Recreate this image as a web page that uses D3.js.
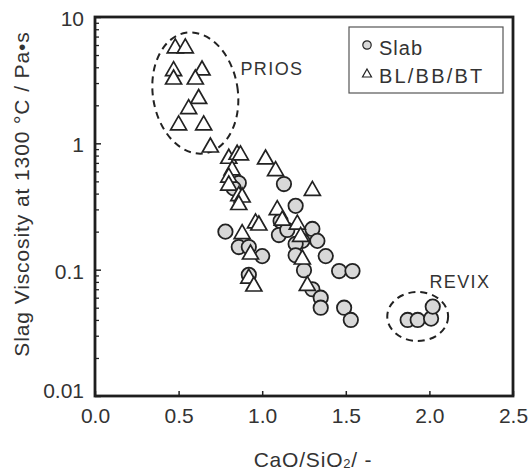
<!DOCTYPE html>
<html>
<head>
<meta charset="utf-8">
<script src="https://cdn.jsdelivr.net/npm/d3@7"></script>
<style>
  html, body { margin: 0; padding: 0; background: #fff; }
  svg text { font-family: "Liberation Sans", Arial, sans-serif; fill: #333; }
</style>
</head>
<body>
<svg id="chart" width="530" height="475"></svg>
<script>
// Slab samples: basicity (CaO/SiO2) and viscosity at 1300 °C (Pa·s)
const slabBasicity = [0.78, 0.86, 0.83, 1.13, 1.20, 1.11, 1.30, 1.10, 1.15, 1.33,
                      1.24, 1.20, 0.86, 0.92, 1.00, 1.20, 1.38, 1.25, 1.46, 1.54,
                      0.92, 1.30, 1.35, 1.35, 1.49, 1.53, 1.87, 1.93, 2.01, 2.02];
const slabViscosity = [0.20, 0.485, 0.44, 0.476, 0.32, 0.243, 0.21, 0.188, 0.206, 0.169,
                       0.169, 0.160, 0.151, 0.151, 0.128, 0.130, 0.128, 0.099, 0.0975, 0.0975,
                       0.091, 0.070, 0.060, 0.050, 0.050, 0.040, 0.040, 0.040, 0.041, 0.051];

// BL/BB/BT samples
const blBasicity = [0.48, 0.54, 0.47, 0.47, 0.64, 0.60, 0.62, 0.56, 0.50, 0.65,
                    0.69, 0.80, 0.85, 0.87, 0.82, 0.80, 0.80, 0.86, 0.88, 0.86,
                    1.02, 1.08, 1.30, 1.09, 1.12, 1.21, 1.23, 0.96, 0.98, 0.88,
                    0.93, 1.24, 0.92, 0.95, 1.27];
const blViscosity = [5.9, 5.9, 3.9, 3.35, 3.95, 3.35, 2.35, 1.95, 1.45, 1.45,
                     0.97, 0.79, 0.85, 0.84, 0.64, 0.56, 0.485, 0.40, 0.39, 0.34,
                     0.78, 0.63, 0.44, 0.31, 0.256, 0.238, 0.19, 0.243, 0.234, 0.20,
                     0.138, 0.126, 0.089, 0.077, 0.078];

// Axis ticks
const xTickValues = [0, 0.5, 1.0, 1.5, 2.0, 2.5];
const xTickLabels = ["0.0", "0.5", "1.0", "1.5", "2.0", "2.5"];
const yTickValues = [10, 1, 0.1, 0.01];
const yTickLabels = ["10", "1", "0.1", "0.01"];
const legendLabels = ["Slab", "BL/BB/BT"];

// Grouped process regions (dashed ellipses): centre, half-width (x units), half-height (decades)
const regionNames = ["PRIOS", "REVIX"];
const regionCenterX = [0.60, 1.93];
const regionCenterY = [2.5, 0.0426];
const regionHalfX = [0.254, 0.182];
const regionHalfDecades = [0.483, 0.194];
const regionTilt = [-9, 0];
const regionLabelX = [0.87, 2.0];
const regionLabelY = [3.47, 0.0716];

const W = 530, H = 475;
const margin = { left: 95, right: 17, top: 17, bottom: 79 };
const svg = d3.select("#chart");

const x = d3.scaleLinear().domain([0, 2.5]).range([margin.left, W - margin.right]);
const y = d3.scaleLog().domain([0.01, 10]).range([H - margin.bottom, margin.top]);

const x0 = x.range()[0], x1 = x.range()[1];
const y0 = y.range()[0], y1 = y.range()[1];

// x axis: inward ticks, labels below
const xAxis = svg.append("g")
  .attr("transform", `translate(0,${y0})`)
  .call(d3.axisBottom(x).tickValues(xTickValues)
    .tickFormat((d, i) => xTickLabels[i])
    .tickSizeInner(-5).tickSizeOuter(0).tickPadding(12));
xAxis.select(".domain").remove();
xAxis.selectAll("line").attr("stroke", "#222").attr("stroke-width", 1.5);
xAxis.selectAll("text").attr("font-size", 21).style("fill", "#333");

// y axis: minor ticks
const minorVals = [];
[0.01, 0.1, 1].forEach(b => { for (let k = 2; k <= 9; k++) minorVals.push(b * k); });
const yMinor = svg.append("g")
  .attr("transform", `translate(${x0},0)`)
  .call(d3.axisLeft(y).tickValues(minorVals).tickFormat("").tickSizeInner(-4).tickSizeOuter(0));
yMinor.select(".domain").remove();
yMinor.selectAll("line").attr("stroke", "#222").attr("stroke-width", 1.3);

// y axis: major ticks with labels
const yAxis = svg.append("g")
  .attr("transform", `translate(${x0},0)`)
  .call(d3.axisLeft(y).tickValues(yTickValues)
    .tickFormat((d, i) => yTickLabels[i])
    .tickSizeInner(-6).tickSizeOuter(0).tickPadding(11));
yAxis.select(".domain").remove();
yAxis.selectAll("line").attr("stroke", "#222").attr("stroke-width", 1.5);
yAxis.selectAll("text").attr("font-size", 21).style("fill", "#333")
  .attr("dy", d => d === 0.01 ? "0.05em" : "0.4em");

// plot frame
svg.append("rect")
  .attr("x", x0).attr("y", y1)
  .attr("width", x1 - x0).attr("height", y0 - y1)
  .attr("fill", "none").attr("stroke", "#1e1e1e").attr("stroke-width", 2.8);

// axis titles
const xt = svg.append("text")
  .attr("x", (x0 + x1) / 2 + 9).attr("y", 467)
  .attr("text-anchor", "middle").attr("font-size", 21)
  .attr("letter-spacing", 0.8);
xt.append("tspan").text("CaO/SiO");
xt.append("tspan").attr("font-size", 13).attr("dy", 1).text("2");
xt.append("tspan").attr("dy", -1).text("/ -");

svg.append("text")
  .attr("transform", `translate(29,194) rotate(-90)`)
  .attr("text-anchor", "middle").attr("font-size", 21)
  .attr("letter-spacing", 0.9)
  .text("Slag Viscosity at 1300 °C / Pa•s");

// region ellipses and their labels
regionNames.forEach((name, i) => {
  const cx = x(regionCenterX[i]), cy = y(regionCenterY[i]);
  const rx = x(regionCenterX[i] + regionHalfX[i]) - cx;
  const ry = cy - y(regionCenterY[i] * Math.pow(10, regionHalfDecades[i]));
  svg.append("ellipse")
    .attr("cx", cx).attr("cy", cy).attr("rx", rx).attr("ry", ry)
    .attr("transform", `rotate(${regionTilt[i]},${cx},${cy})`)
    .attr("fill", "none").attr("stroke", "#222").attr("stroke-width", 2)
    .attr("stroke-dasharray", "7,5");
  svg.append("text")
    .attr("x", x(regionLabelX[i])).attr("y", y(regionLabelY[i]))
    .attr("font-size", 18).attr("letter-spacing", 1.4)
    .text(name);
});

// triangle path centred on its bounding box
function triPath(w, h) {
  return `M0,${-h / 2}L${w / 2},${h / 2}L${-w / 2},${h / 2}Z`;
}

// Slab markers
svg.append("g").selectAll("circle")
  .data(d3.range(slabBasicity.length))
  .join("circle")
  .attr("cx", i => x(slabBasicity[i]))
  .attr("cy", i => y(slabViscosity[i]))
  .attr("r", 7.2)
  .attr("fill", "#d8d8d8").attr("stroke", "#222").attr("stroke-width", 1.8);

// BL/BB/BT markers
svg.append("g").selectAll("path")
  .data(d3.range(blBasicity.length))
  .join("path")
  .attr("d", triPath(16, 14))
  .attr("transform", i => `translate(${x(blBasicity[i])},${y(blViscosity[i])})`)
  .attr("fill", "#fff").attr("stroke", "#222").attr("stroke-width", 1.7)
  .attr("stroke-linejoin", "miter");

// legend
const lg = svg.append("g").attr("transform", "translate(349,27)");
lg.append("rect").attr("width", 154).attr("height", 66)
  .attr("fill", "#fff").attr("stroke", "#555").attr("stroke-width", 1.2);
lg.append("circle").attr("cx", 18).attr("cy", 18).attr("r", 4.2)
  .attr("fill", "#d8d8d8").attr("stroke", "#222").attr("stroke-width", 1.2);
lg.append("path").attr("d", triPath(9, 8)).attr("transform", "translate(18,46)")
  .attr("fill", "#fff").attr("stroke", "#222").attr("stroke-width", 1.2);
legendLabels.forEach((t, i) => {
  lg.append("text").attr("x", 30).attr("y", 28 + i * 28)
    .attr("font-size", 20).attr("letter-spacing", i === 1 ? 2.2 : 1)
    .text(t);
});
</script>
</body>
</html>
